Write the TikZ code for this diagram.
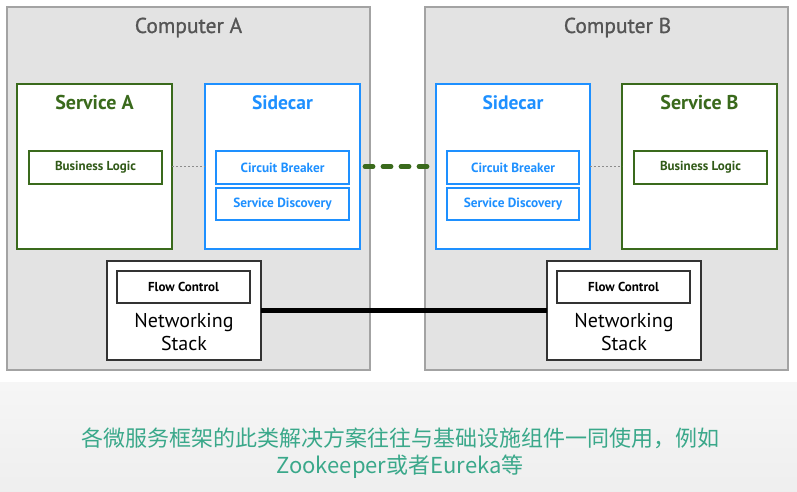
\documentclass[tikz,border=0pt]{standalone}
\usepackage{fontspec}
\setmainfont{PT Sans}
\newfontfamily\titlefont[FakeBold=0.9]{PT Sans}
\newfontfamily\cjkfont{Noto Sans CJK SC}
\usetikzlibrary{positioning}

\definecolor{compgray}{HTML}{E3E3E3}
\definecolor{compedge}{HTML}{A3A3A3}
\definecolor{compfont}{HTML}{555555}
\definecolor{svcgreen}{HTML}{3A6A1C}
\definecolor{carblue}{HTML}{1E90FF}
\definecolor{notegreen}{HTML}{3AA88A}

\newcommand\pxbox[7]{
  \node[#6, minimum width=#4-#2, minimum height=#5-#3] (#1) at ({(#2+#4)/2}, {(#3+#5)/2}) {#7} ;
}
\newcommand\pxtitle[4]{
  \node[#3, anchor=base] (#1title) at ([yshift=-#2]#1.north) {#4} ;
}

\tikzset{
  every node/.style={inner sep=0pt, outer sep=0pt},
  compbox/.style={draw=compedge, fill=compgray, line width=1.3pt},
  svcbox/.style={draw=svcgreen, fill=white, line width=2.2pt},
  carbox/.style={draw=carblue, fill=white, line width=2.2pt},
  svcpart/.style={draw=svcgreen, fill=white, line width=1.2pt, text=svcgreen!85!black, font=\fontsize{13}{15}\bfseries\selectfont},
  carpart/.style={draw=carblue, fill=white, line width=1.2pt, text=carblue, font=\fontsize{13.3}{15}\bfseries\selectfont},
  netbox/.style={draw=black!80, fill=white, line width=1.3pt},
  netpart/.style={draw=black!80, fill=white, line width=1.3pt, font=\fontsize{13}{15}\bfseries\selectfont},
  comptitlefont/.style={text=compfont, font=\titlefont\fontsize{21.5}{25}\selectfont},
  svctitlefont/.style={text=svcgreen, font=\fontsize{20}{24}\bfseries\selectfont},
  cartitlefont/.style={text=carblue, font=\fontsize{19.5}{23}\bfseries\selectfont},
  localdot/.style={draw=gray!90, line width=1.6pt, dash pattern=on 1.6pt off 2.4pt},
  sidelink/.style={draw=svcgreen, line width=4.8pt, line cap=round, dash pattern=on 8pt off 10pt},
  wirelink/.style={draw=black, line width=5pt}
}

\begin{document}
\begin{tikzpicture}[x=1pt, y=-1pt]
  \useasboundingbox (0,0) rectangle (797,492) ;
  \fill[white] (0,0) rectangle (797,492) ;
  \shade[top color=gray!7, bottom color=gray!13] (0,382) rectangle (797,492) ;

  \pxbox{compA}{7}{7}{370}{370}{compbox}{}
  \pxbox{compB}{425}{7}{788}{370}{compbox}{}
  \pxtitle{compA}{26}{comptitlefont}{Computer A}
  \node[comptitlefont, anchor=base] (compBtitle) at ([xshift=11, yshift=-26]compB.north) {Computer B} ;

  \pxbox{svcA}{17}{84}{172}{249}{svcbox}{}
  \pxbox{carA}{205}{84}{360}{249}{carbox}{}
  \pxbox{carB}{436}{84}{590}{249}{carbox}{}
  \pxbox{svcB}{622}{84}{777}{249}{svcbox}{}
  \pxtitle{svcA}{26}{svctitlefont}{Service A}
  \pxtitle{carA}{26}{cartitlefont}{Sidecar}
  \pxtitle{carB}{26}{cartitlefont}{Sidecar}
  \pxtitle{svcB}{26}{svctitlefont}{Service B}

  \pxbox{logicA}{29}{151}{162}{184}{svcpart}{Business Logic}
  \pxbox{breakA}{216}{151}{349}{184}{carpart}{Circuit Breaker}
  \pxbox{findA}{216}{188}{349}{220}{carpart}{Service Discovery}
  \pxbox{breakB}{447}{151}{579}{184}{carpart}{Circuit Breaker}
  \pxbox{findB}{447}{188}{579}{220}{carpart}{Service Discovery}
  \pxbox{logicB}{634}{151}{767}{184}{svcpart}{Business Logic}

  \pxbox{netA}{107}{261}{261}{360}{netbox}{}
  \pxbox{netB}{547}{261}{701}{360}{netbox}{}
  \pxbox{flowA}{117}{271}{250}{303}{netpart}{Flow Control}
  \pxbox{flowB}{557}{271}{690}{303}{netpart}{Flow Control}
  \node[align=center, font=\fontsize{20}{22.5}\selectfont] (netAtext) at ([yshift=-29]netA.center |- flowA.south) {Networking\\Stack} ;
  \node[align=center, font=\fontsize{20}{22.5}\selectfont] (netBtext) at ([yshift=-29]netB.center |- flowB.south) {Networking\\Stack} ;

  \draw[localdot] (svcA) -- (carA) ;
  \draw[localdot] (carB) -- (svcB) ;
  \draw[sidelink] ([xshift=5]carA.east) -- ([xshift=-5]carB.west) ;
  \draw[wirelink] (netA) -- (netB) ;

  \node[align=center, text=notegreen, font=\cjkfont\fontsize{22}{27}\selectfont] (note) at (400,453) {各微服务框架的此类解决方案往往与基础设施组件一同使用，例如\\Zookeeper或者Eureka等} ;
\end{tikzpicture}
\end{document}
